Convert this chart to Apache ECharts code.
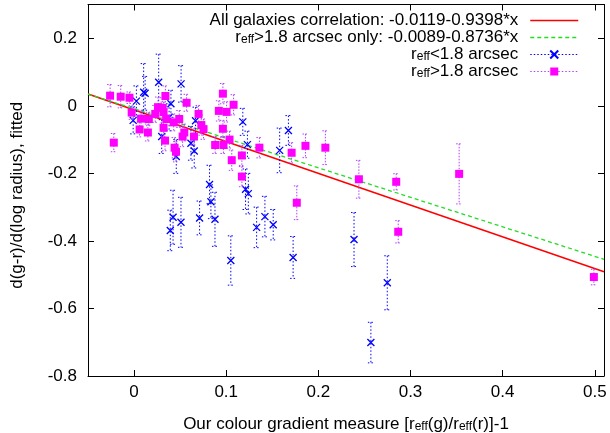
<!DOCTYPE html>
<html><head><meta charset="utf-8">
<script src="https://cdn.jsdelivr.net/npm/echarts@6/dist/echarts.min.js"></script>
<style>html,body{margin:0;padding:0;background:#fff}#c{width:610px;height:433px}</style>
</head><body><div id="c"></div>
<script>
// ---- data ----
var xTicks = [0, 0.1, 0.2, 0.3, 0.4, 0.5];
var yTicks = [-0.8, -0.6, -0.4, -0.2, 0, 0.2];

// r_eff < 1.8 arcsec (blue crosses)
var blueX   = [0.0267, 0.051, 0.0104, 0.012, 0.0025, -0.001, 0.040, 0.038, 0.030, 0.0617, 0.0653, 0.0667, 0.118, 0.123, 0.0458, 0.0423, 0.0393, 0.0509, 0.0711, 0.0819, 0.0834, 0.0878, 0.105, 0.121, 0.124, 0.133, 0.142, 0.151, 0.1726, 0.158, 0.1675, 0.2387, 0.2748, 0.257];
var blueY   = [0.070, 0.065, 0.040, 0.037, 0.014, -0.043, 0.006, -0.034, -0.091, -0.111, -0.134, -0.044, -0.0475, -0.115, -0.150, -0.330, -0.369, -0.345, -0.332, -0.233, -0.284, -0.336, -0.458, -0.247, -0.260, -0.360, -0.328, -0.352, -0.449, -0.132, -0.073, -0.396, -0.524, -0.701];
var blueErr = [0.083, 0.054, 0.085, 0.05, 0.045, 0.04, 0.04, 0.04, 0.05, 0.05, 0.05, 0.04, 0.04, 0.04, 0.05, 0.08, 0.06, 0.074, 0.05, 0.057, 0.05, 0.08, 0.073, 0.06, 0.06, 0.06, 0.06, 0.045, 0.062, 0.066, 0.044, 0.08, 0.08, 0.06];

// r_eff > 1.8 arcsec (magenta squares)
var magX   = [-0.026, -0.0145, -0.005, -0.0026, -0.022, 0.0076, 0.006, 0.015, 0.016, 0.026, 0.031, 0.032, 0.023, 0.034, 0.035, 0.032, 0.0336, 0.044, 0.0455, 0.043, 0.049, 0.057, 0.0527, 0.0545, 0.065, 0.070, 0.073, 0.0754, 0.088, 0.092, 0.0964, 0.1004, 0.108, 0.0964, 0.1036, 0.097, 0.106, 0.117, 0.136, 0.117, 0.171, 0.1766, 0.186, 0.2076, 0.244, 0.2845, 0.2867, 0.3528, 0.499];
var magY   = [0.030, 0.027, 0.024, -0.020, -0.109, -0.038, -0.070, -0.079, -0.039, -0.004, -0.006, -0.019, -0.024, 0.029, -0.039, -0.065, -0.103, -0.124, -0.136, -0.049, -0.039, 0.009, -0.091, -0.079, -0.091, -0.024, -0.057, -0.069, -0.116, -0.015, 0.036, -0.018, 0.003, -0.068, -0.100, -0.116, -0.161, -0.147, -0.124, -0.2095, -0.139, -0.287, -0.1185, -0.124, -0.2175, -0.225, -0.373, -0.2015, -0.507];
var magErr = [0.033, 0.033, 0.017, 0.02, 0.027, 0.025, 0.022, 0.025, 0.02, 0.03, 0.03, 0.03, 0.025, 0.03, 0.03, 0.025, 0.03, 0.03, 0.03, 0.025, 0.025, 0.025, 0.03, 0.025, 0.025, 0.025, 0.03, 0.03, 0.025, 0.03, 0.03, 0.03, 0.03, 0.025, 0.025, 0.025, 0.03, 0.03, 0.03, 0.03, 0.03, 0.05, 0.035, 0.05, 0.056, 0.024, 0.033, 0.089, 0.023];

// fitted lines (end points at the x-axis limits)
var fitX    = [-0.05, 0.51];
var allFitY = [0.0351, -0.4912];
var bigFitY = [0.0348, -0.4544];

var nameAll = 'All galaxies correlation: -0.0119-0.9398*x';
var nameBig = 'reff>1.8 arcsec only: -0.0089-0.8736*x';
var nameSmall = 'reff<1.8 arcsec';
var nameLarge = 'reff>1.8 arcsec';

// ---- build ----
function pairs(xs, ys) { return xs.map(function (x, i) { return [x, ys[i]]; }); }
function triples(xs, ys, es) { return xs.map(function (x, i) { return [x, ys[i], es[i]]; }); }

var FONT = '"Liberation Sans", Arial, sans-serif';
var rich = {
  n: { fontSize: 17, fontFamily: FONT, color: '#000', lineHeight: 17 },
  s: { fontSize: 12, fontFamily: FONT, color: '#000', lineHeight: 12, verticalAlign: 'bottom' }
};
function richName(nm) {
  if (nm.indexOf('reff') === 0) return '{n|r}{s|eff}{n|' + nm.slice(4) + '}';
  return '{n|' + nm + '}';
}

function errRender(color, dash) {
  return function (params, api) {
    var x = api.value(0), y = api.value(1), e = api.value(2);
    var t = api.coord([x, y + e]), b = api.coord([x, y - e]);
    var cw = 3;
    var st = { stroke: color, lineWidth: 1, lineDash: dash, fill: null };
    return { type: 'group', children: [
      { type: 'line', shape: { x1: t[0], y1: t[1], x2: b[0], y2: b[1] }, style: st },
      { type: 'line', shape: { x1: t[0] - cw, y1: t[1], x2: t[0] + cw, y2: t[1] }, style: st },
      { type: 'line', shape: { x1: b[0] - cw, y1: b[1], x2: b[0] + cw, y2: b[1] }, style: st }
    ]};
  };
}

var xCommon = { type: 'value', min: -0.05, max: 0.51, splitLine: { show: false },
  axisLine: { onZero: false, lineStyle: { color: '#000', width: 1 } } };
var yCommon = { type: 'value', min: -0.8, max: 0.3, splitLine: { show: false },
  axisLine: { onZero: false, lineStyle: { color: '#000', width: 1 } } };

var option = {
  animation: false,
  backgroundColor: '#fff',
  grid: { left: 88, right: 6, top: 4.5, bottom: 57, containLabel: false, outerBoundsMode: 'none' },
  xAxis: [
    Object.assign({}, xCommon, {
      position: 'bottom',
      axisTick: { inside: true, length: 6, customValues: xTicks, lineStyle: { color: '#000' } },
      axisLabel: { customValues: xTicks, margin: 8, fontSize: 17, fontFamily: FONT, color: '#000',
        formatter: function (v) { return String(+v.toFixed(2)); } },
      name: '{n|Our colour gradient measure [r}{s|eff}{n|(g)/r}{s|eff}{n|(r)]-1}',
      nameLocation: 'middle', nameGap: 40,
      nameTextStyle: { rich: rich }
    }),
    Object.assign({}, xCommon, {
      position: 'top',
      axisTick: { inside: true, length: 6, customValues: xTicks, lineStyle: { color: '#000' } },
      axisLabel: { show: false }
    })
  ],
  yAxis: [
    Object.assign({}, yCommon, {
      position: 'left',
      axisTick: { inside: true, length: 6, customValues: yTicks, lineStyle: { color: '#000' } },
      axisLabel: { customValues: yTicks, margin: 11, fontSize: 17, fontFamily: FONT, color: '#000',
        formatter: function (v) { return String(+v.toFixed(2)); } },
      name: 'd(g-r)/d(log radius), fitted',
      nameLocation: 'middle', nameGap: 62, nameRotate: 90,
      nameTextStyle: { fontSize: 17, fontFamily: FONT, color: '#000', padding: [0, 10, 0, 0] }
    }),
    Object.assign({}, yCommon, {
      position: 'right',
      axisTick: { inside: true, length: 6, customValues: yTicks, lineStyle: { color: '#000' } },
      axisLabel: { show: false }
    })
  ],
  legend: {
    orient: 'vertical', right: 26, top: 7, align: 'right',
    itemWidth: 48, itemHeight: 10, itemGap: 0,
    selectedMode: false,
    textStyle: { rich: rich, padding: [0, 7, 0, 0] },
    formatter: richName,
    data: [
      { name: nameAll, itemStyle: { opacity: 0 }, lineStyle: { color: '#ff0000', width: 1.5, opacity: 1 } },
      { name: nameBig, itemStyle: { opacity: 0 }, lineStyle: { color: '#22dd22', width: 1.3, type: [4, 3], opacity: 1 } },
      { name: nameSmall, lineStyle: { type: [1.5, 2], color: '#0000ff', width: 1, opacity: 1 } },
      { name: nameLarge, lineStyle: { type: [1.5, 2], color: '#b040ff', width: 1, opacity: 1 } }
    ]
  },
  series: [
    { name: nameAll, type: 'line', data: pairs(fitX, allFitY), showSymbol: false, symbol: 'none',
      lineStyle: { color: '#ff0000', width: 1.5 }, itemStyle: { color: '#ff0000' }, z: 1 },
    { name: nameBig, type: 'line', data: pairs(fitX, bigFitY), showSymbol: false, symbol: 'none',
      lineStyle: { color: '#22dd22', width: 1.3, type: [4, 3] }, itemStyle: { color: '#22dd22' }, z: 2 },
    { name: 'blueErr', type: 'custom', data: triples(blueX, blueY, blueErr),
      encode: { x: 0, y: 1 }, renderItem: errRender('#0000ff', [1.5, 2]), z: 3 },
    { name: nameSmall, type: 'line', data: pairs(blueX, blueY),
      symbol: 'path://M0,0L10,10M10,0L0,10', symbolSize: 7,
      lineStyle: { color: '#0000ff', type: [1.5, 2], width: 0, opacity: 0 },
      itemStyle: { color: '#0000ff', borderColor: '#0000ff', borderWidth: 1.3 }, z: 4 },
    { name: 'magErr', type: 'custom', data: triples(magX, magY, magErr),
      encode: { x: 0, y: 1 }, renderItem: errRender('#b040ff', [1.5, 1.5]), z: 5 },
    { name: nameLarge, type: 'line', data: pairs(magX, magY),
      symbol: 'rect', symbolSize: 8,
      lineStyle: { color: '#b040ff', type: [1.5, 2], width: 0, opacity: 0 },
      itemStyle: { color: '#ff00ff', borderWidth: 0 }, z: 6 }
  ]
};
var chart = echarts.init(document.getElementById('c'), null, { renderer: 'canvas' });
chart.setOption(option);
</script>
</body></html>
